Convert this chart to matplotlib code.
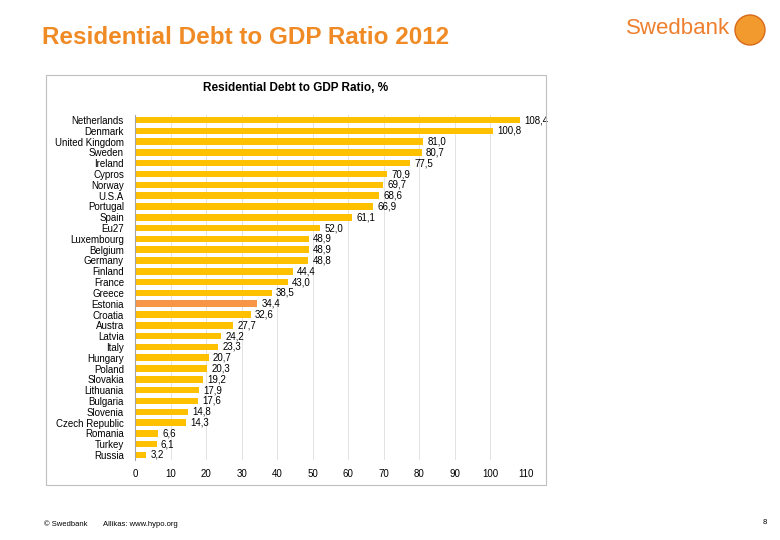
import matplotlib.pyplot as plt
from matplotlib.patches import Rectangle, Ellipse

countries = ["Netherlands", "Denmark", "United Kingdom", "Sweden", "Ireland", "Cypros",
             "Norway", "U.S.A", "Portugal", "Spain", "Eu27", "Luxembourg", "Belgium",
             "Germany", "Finland", "France", "Greece", "Estonia", "Croatia", "Austra",
             "Latvia", "Italy", "Hungary", "Poland", "Slovakia", "Lithuania", "Bulgaria",
             "Slovenia", "Czech Republic", "Romania", "Turkey", "Russia"]
values = [108.4, 100.8, 81.0, 80.7, 77.5, 70.9, 69.7, 68.6, 66.9, 61.1, 52.0, 48.9,
          48.9, 48.8, 44.4, 43.0, 38.5, 34.4, 32.6, 27.7, 24.2, 23.3, 20.7, 20.3,
          19.2, 17.9, 17.6, 14.8, 14.3, 6.6, 6.1, 3.2]
highlight = "Estonia"
xticks = list(range(0, 111, 10))

fig = plt.figure(figsize=(7.8, 5.4), dpi=100)
plt.rcParams['font.family'] = ['Liberation Sans', 'DejaVu Sans']

# chart frame
fig.patches.append(Rectangle((46 / 780, 1 - 485 / 540), 500 / 780, 410 / 540,
                             transform=fig.transFigure, fill=False,
                             edgecolor="#bfbfbf", linewidth=0.8))

ax = fig.add_axes([135 / 780, 1 - 460.4 / 540, 391 / 780, 345.8 / 540])
colors = ["#F79646" if c == highlight else "#FFC000" for c in countries]
y = range(len(countries))
ax.barh(y, values, height=0.6, color=colors, zorder=2)
ax.set_ylim(len(countries) - 0.5, -0.5)
ax.set_xlim(0, 110)
ax.set_xticks(xticks)
ax.set_yticks(list(y))
ax.set_yticklabels(countries, fontsize=7)
ax.tick_params(axis="x", labelsize=7, length=0, pad=6)
ax.tick_params(axis="y", length=0, pad=8)
ax.grid(axis="x", color="#e3e3e3", linewidth=0.7, zorder=0)
for s in ["top", "right", "bottom"]:
    ax.spines[s].set_visible(False)
ax.spines["left"].set_color("#a6a6a6")
for i, v in enumerate(values):
    ax.text(v + 1.2, i, f"{v:.1f}".replace(".", ","), va="center", ha="left", fontsize=7)

fig.text(296 / 780, 1 - 88 / 540, "Residential Debt to GDP Ratio, %", ha="center",
         va="center", fontsize=8.5, fontweight="bold")

fig.text(42 / 780, 1 - 38 / 540, "Residential Debt to GDP Ratio 2012", ha="left",
         va="center", fontsize=17.5, fontweight="bold", color="#F08A24")

fig.text(626 / 780, 1 - 28 / 540, "Swedbank", ha="left", va="center", fontsize=16,
         color="#EE7F2D")
fig.patches.append(Ellipse((750 / 780, 1 - 30 / 540), 30 / 780, 30 / 540,
                           transform=fig.transFigure, facecolor="#F39A2E",
                           edgecolor="#D86A1A", linewidth=1.0))

fig.text(44 / 780, 1 - 524 / 540, "© Swedbank", ha="left", va="center", fontsize=5.5)
fig.text(103 / 780, 1 - 524 / 540, "Allikas: www.hypo.org", ha="left", va="center", fontsize=5.5)
fig.text(765 / 780, 1 - 523 / 540, "8", ha="center", va="center", fontsize=5.5)

fig.savefig("out.png", dpi=100)
